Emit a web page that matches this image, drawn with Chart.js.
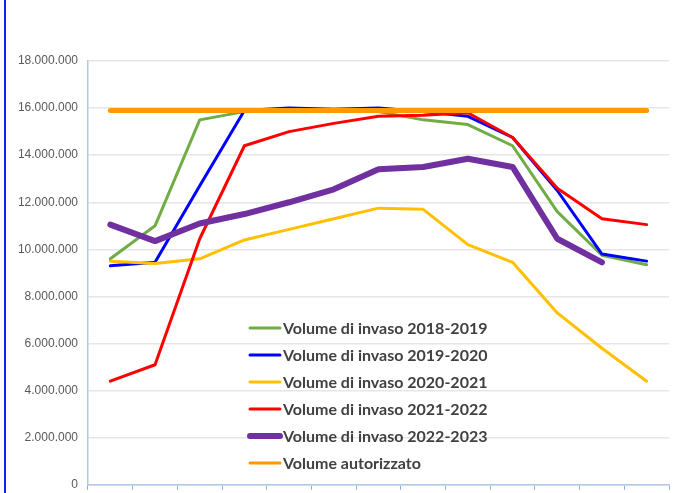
<!DOCTYPE html>
<html>
<head>
<meta charset="utf-8">
<script src="https://cdn.jsdelivr.net/npm/chart.js@4"></script>
<style>
html,body{margin:0;padding:0;background:#fff;overflow:hidden;}
#wrap{position:relative;width:675px;height:493px;overflow:hidden;}
#edge{position:absolute;left:4px;top:0;width:2px;height:493px;background:#1a1aff;}
canvas{position:absolute;left:0;top:0;}
</style>
</head>
<body>
<div id="wrap"><canvas id="c" width="675" height="502"></canvas><div id="edge"></div></div>
<script>
const categories = ["1","2","3","4","5","6","7","8","9","10","11","12","13"];
const labels = ["Volume di invaso 2018-2019","Volume di invaso 2019-2020","Volume di invaso 2020-2021","Volume di invaso 2021-2022","Volume di invaso 2022-2023","Volume autorizzato"];
const v2018 = [9600000,11000000,15500000,15850000,15950000,15900000,15850000,15500000,15300000,14400000,11600000,9750000,9350000];
const v2019 = [9300000,9450000,12700000,15900000,16000000,15950000,16000000,15850000,15650000,14750000,12500000,9800000,9500000];
const v2020 = [9500000,9400000,9600000,10400000,10850000,11300000,11750000,11700000,10200000,9450000,7300000,5800000,4400000];
const v2021 = [4400000,5100000,10450000,14400000,15000000,15350000,15650000,15700000,15800000,14750000,12600000,11300000,11050000];
const v2022 = [11050000,10350000,11100000,11500000,12000000,12550000,13400000,13500000,13850000,13500000,10450000,9450000,null];
const autorizzato = [15900000,15900000,15900000,15900000,15900000,15900000,15900000,15900000,15900000,15900000,15900000,15900000,15900000];
const colors = ["#70ad47","#0000ff","#ffc000","#ff0000","#7030a0","#ff9900"];
const widths = [3,3,3,3,6,5];
const series = [v2018,v2019,v2020,v2021,v2022,autorizzato];

const legendPlugin = {
  id:'inlegend',
  afterDraw(chart){
    const ctx = chart.ctx;
    ctx.save();
    ctx.font = 'bold 16px Lato';
    ctx.fillStyle = '#404040';
    ctx.textBaseline = 'middle';
    labels.forEach((l,i)=>{
      const y = 328 + i*27;
      ctx.strokeStyle = colors[i];
      ctx.lineWidth = i===4 ? 6 : 3;
      ctx.lineCap = 'round';
      ctx.beginPath(); ctx.moveTo(250,y); ctx.lineTo(280,y); ctx.stroke();
      ctx.fillText(l,283,y+1);
    });
    ctx.restore();
  }
};

new Chart(document.getElementById('c'),{
  type:'line',
  data:{
    labels:categories,
    datasets: series.map((d,i)=>({
      label:labels[i], data:d, borderColor:colors[i], backgroundColor:colors[i],
      borderWidth:widths[i], pointRadius:0, tension:0, fill:false,
      borderCapStyle:'round', borderJoinStyle:'round',
      order: i===5 ? 0 : 6-i
    }))
  },
  options:{
    responsive:false, animation:false,
    layout:{padding:{top:61,right:6,bottom:0,left:0}},
    plugins:{legend:{display:false},tooltip:{enabled:false}},
    scales:{
      x:{
        offset:true,
        afterFit(s){s.height=9;},
        grid:{offset:true,drawOnChartArea:false,drawTicks:true,tickLength:5,color:'#8faadc',tickColor:'#8faadc'},
        border:{color:'#b4c7e7',width:1.5},
        ticks:{display:true,callback:()=> '',font:{size:1},padding:0}
      },
      y:{
        min:0,max:18000000,
        afterFit(s){s.width=88;},
        ticks:{stepSize:2000000,color:'#595959',font:{family:'Liberation Sans',size:12},padding:10,
          callback:(v)=> v.toString().replace(/\B(?=(\d{3})+(?!\d))/g,'.')},
        grid:{color:'#e6e6e6',lineWidth:1.5,drawTicks:false},
        border:{color:'#b4c7e7',width:1.5}
      }
    }
  },
  plugins:[legendPlugin]
});
</script>
</body>
</html>
